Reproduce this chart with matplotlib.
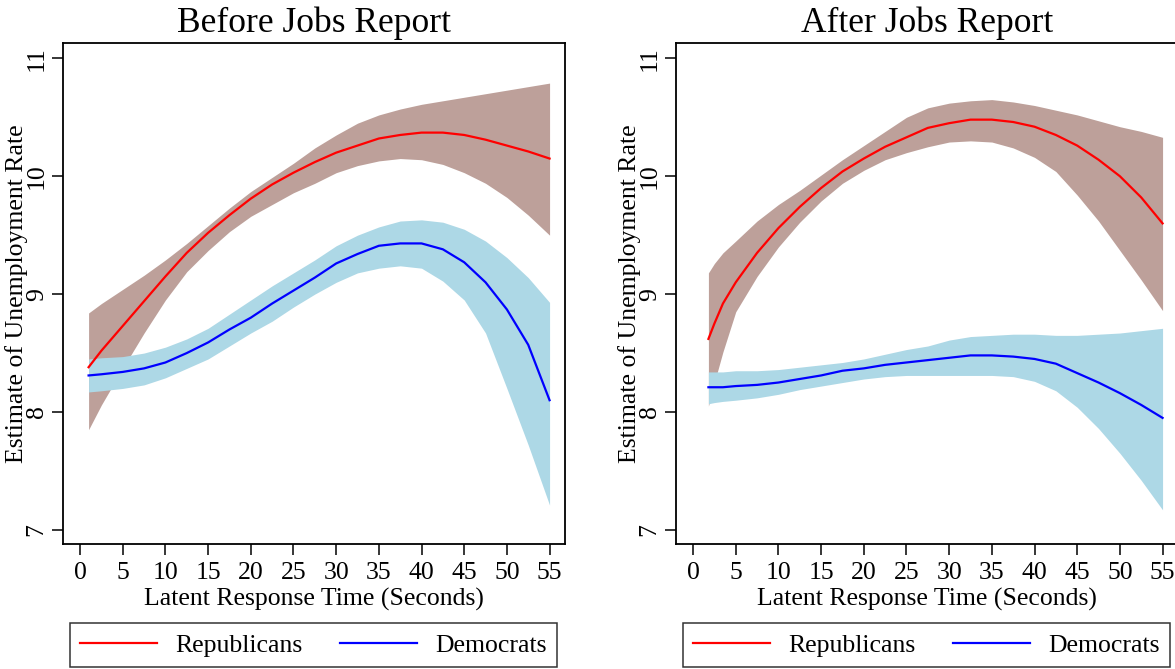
import matplotlib
matplotlib.use("Agg")
import matplotlib.pyplot as plt

plt.rcParams['font.family'] = ['Liberation Serif', 'DejaVu Serif']

# Before jobs report
x_before = [1, 2.5, 5, 7.5, 10, 12.5, 15, 17.5, 20, 22.5, 25, 27.5, 30,
            32.5, 35, 37.5, 40, 42.5, 45, 47.5, 50, 52.5, 55]
rep_before = [8.38, 8.52, 8.73, 8.94, 9.15, 9.35, 9.52, 9.67, 9.81, 9.93, 10.03, 10.12,
              10.20, 10.26, 10.32, 10.35, 10.37, 10.37, 10.35, 10.31, 10.26, 10.21, 10.15]
rep_before_hi = [8.84, 8.92, 9.04, 9.16, 9.29, 9.43, 9.58, 9.73, 9.87, 9.99, 10.11, 10.24,
                 10.35, 10.45, 10.52, 10.57, 10.61, 10.64, 10.67, 10.70, 10.73, 10.76, 10.79]
rep_before_lo = [7.85, 8.06, 8.37, 8.67, 8.95, 9.19, 9.37, 9.53, 9.66, 9.76, 9.86, 9.94,
                 10.03, 10.09, 10.13, 10.15, 10.14, 10.10, 10.03, 9.94, 9.82, 9.67, 9.50]
dem_before = [8.31, 8.32, 8.34, 8.37, 8.42, 8.50, 8.59, 8.70, 8.80, 8.92, 9.03, 9.14,
              9.26, 9.34, 9.41, 9.43, 9.43, 9.38, 9.27, 9.10, 8.87, 8.57, 8.10]
dem_before_hi = [8.45, 8.46, 8.47, 8.50, 8.55, 8.62, 8.71, 8.83, 8.95, 9.07, 9.18, 9.29,
                 9.41, 9.50, 9.57, 9.62, 9.63, 9.61, 9.55, 9.45, 9.31, 9.14, 8.93]
dem_before_lo = [8.17, 8.18, 8.20, 8.23, 8.29, 8.37, 8.45, 8.56, 8.67, 8.77, 8.89, 9.00,
                 9.10, 9.18, 9.22, 9.24, 9.22, 9.11, 8.95, 8.67, 8.20, 7.72, 7.21]

# After jobs report
x_after = [1.8, 2.5, 3.5, 5, 7.5, 10, 12.5, 15, 17.5, 20, 22.5, 25, 27.5, 30,
           32.5, 35, 37.5, 40, 42.5, 45, 47.5, 50, 52.5, 55]
rep_after = [8.62, 8.75, 8.92, 9.10, 9.35, 9.56, 9.74, 9.90, 10.04, 10.15, 10.25, 10.33,
             10.41, 10.45, 10.48, 10.48, 10.46, 10.42, 10.35, 10.26, 10.14, 10.00, 9.82, 9.60]
rep_after_hi = [9.18, 9.26, 9.35, 9.45, 9.62, 9.76, 9.88, 10.01, 10.14, 10.26, 10.38, 10.50,
                10.58, 10.62, 10.64, 10.65, 10.63, 10.60, 10.56, 10.52, 10.47, 10.42, 10.38, 10.33]
rep_after_lo = [8.05, 8.25, 8.51, 8.85, 9.15, 9.40, 9.61, 9.79, 9.94, 10.05, 10.14, 10.20,
                10.25, 10.29, 10.30, 10.29, 10.24, 10.16, 10.04, 9.84, 9.62, 9.37, 9.12, 8.86]
dem_after = [8.21, 8.21, 8.21, 8.22, 8.23, 8.25, 8.28, 8.31, 8.35, 8.37, 8.40, 8.42,
             8.44, 8.46, 8.48, 8.48, 8.47, 8.45, 8.41, 8.33, 8.25, 8.16, 8.06, 7.95]
dem_after_hi = [8.34, 8.34, 8.34, 8.35, 8.35, 8.36, 8.38, 8.40, 8.42, 8.45, 8.49, 8.53,
                8.56, 8.61, 8.64, 8.65, 8.66, 8.66, 8.65, 8.65, 8.66, 8.67, 8.69, 8.71]
dem_after_lo = [8.07, 8.08, 8.09, 8.10, 8.12, 8.15, 8.19, 8.22, 8.25, 8.28, 8.30, 8.31,
                8.31, 8.31, 8.31, 8.31, 8.30, 8.26, 8.18, 8.04, 7.86, 7.65, 7.42, 7.17]

x_ticks = list(range(0, 60, 5))
y_ticks = [7, 8, 9, 10, 11]

fig = plt.figure(figsize=(11.75, 6.69), dpi=100)

panels = [
    ("Before Jobs Report", 0.0536, x_before, rep_before, rep_before_lo, rep_before_hi,
     dem_before, dem_before_lo, dem_before_hi),
    ("After Jobs Report", 0.5753, x_after, rep_after, rep_after_lo, rep_after_hi,
     dem_after, dem_after_lo, dem_after_hi),
]

for title, left, x, rep, rep_lo, rep_hi, dem, dem_lo, dem_hi in panels:
    ax = fig.add_axes([left, 0.1868, 0.4272, 0.7489])
    # draw order like the original: R band, R line, D band, D line
    ax.fill_between(x, rep_lo, rep_hi, color='#bda09a', linewidth=0)
    ax.plot(x, rep, color='#ff0000', linewidth=1.6, label='Republicans')
    ax.fill_between(x, dem_lo, dem_hi, color='#add8e6', linewidth=0)
    ax.plot(x, dem, color='#0000ff', linewidth=1.6, label='Democrats')

    ax.set_xlim(-2, 56.8)
    ax.set_ylim(6.88, 11.13)
    ax.set_xticks(x_ticks)
    ax.set_yticks(y_ticks)
    ax.set_yticklabels([str(v) for v in y_ticks], rotation=90, va='center')
    ax.tick_params(direction='out', length=8, width=1.1, labelsize=18.5, colors='black')
    ax.tick_params(axis='x', pad=5)
    ax.tick_params(axis='y', pad=3)
    for s in ax.spines.values():
        s.set_linewidth(1.3)

    ax.set_title(title, fontsize=25.5, pad=8)
    ax.set_xlabel("Latent Response Time (Seconds)", fontsize=18.5, labelpad=3)
    ax.set_ylabel("Estimate of Unemployment Rate", fontsize=18.5, labelpad=-1.5)

    leg = ax.legend(loc='lower left', bbox_to_anchor=(0.014, -0.2455, 0.970, 0.0878),
                    mode='expand', ncol=2, fontsize=18.5, frameon=True, fancybox=False,
                    edgecolor='black', handlelength=3, handletextpad=0.7,
                    borderaxespad=0, borderpad=0.4)
    leg.get_frame().set_linewidth(1.1)

fig.savefig("out.png", dpi=100)
